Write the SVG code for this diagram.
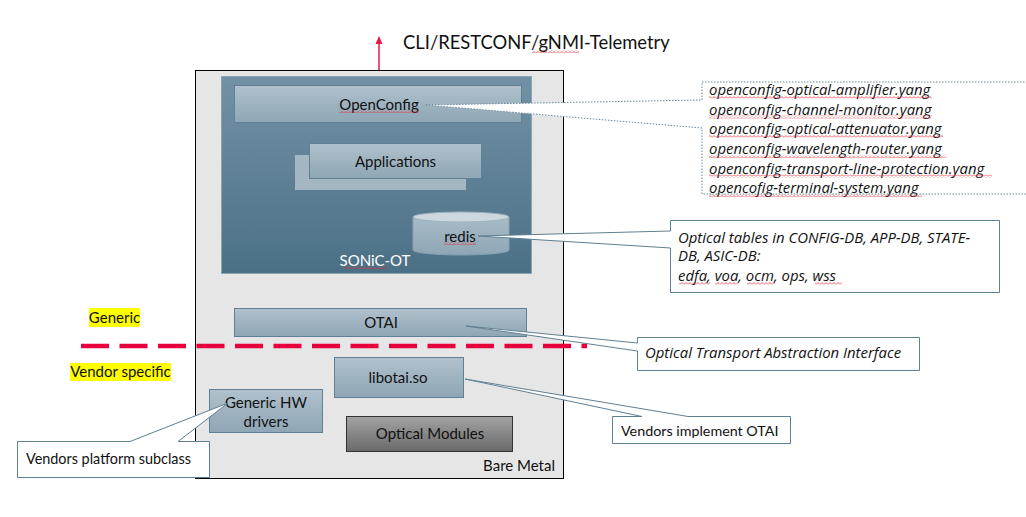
<svg xmlns="http://www.w3.org/2000/svg" width="1026" height="517" viewBox="0 0 1026 517">
<defs>
<linearGradient id="gBox" x1="0" y1="0" x2="0" y2="1"><stop offset="0" stop-color="#b0c1cc"/><stop offset="1" stop-color="#8ea6b5"/></linearGradient>
<linearGradient id="gSonic" x1="0" y1="0" x2="0" y2="1"><stop offset="0" stop-color="#7391a5"/><stop offset="1" stop-color="#4b7086"/></linearGradient>
<linearGradient id="gCyl" x1="0" y1="0" x2="0" y2="1"><stop offset="0" stop-color="#a9bbc7"/><stop offset="1" stop-color="#8ea6b5"/></linearGradient>
<linearGradient id="gMod" x1="0" y1="0" x2="0" y2="1"><stop offset="0" stop-color="#a3a3a3"/><stop offset="1" stop-color="#6a6a6a"/></linearGradient>
<pattern id="sq" width="4" height="3" patternUnits="userSpaceOnUse"><path d="M0,2.5 L2,0.5 L4,2.5" fill="none" stroke="#e0303a" stroke-width="0.8"/></pattern>
</defs>
<style>
text{font-family:Lato,"Open Sans",sans-serif;fill:#111}
.lbl{font-size:15px;text-anchor:middle;dominant-baseline:central}
.box{fill:url(#gBox);stroke:#5f8195;stroke-width:1}
.it{font-family:"Open Sans",Lato,sans-serif;font-style:italic;font-size:14.9px;dominant-baseline:central}
.co{fill:#fff;stroke:#5f7f92;stroke-width:1}
.side{font-size:15px;text-anchor:middle;dominant-baseline:central}
.sq{fill:url(#sq)}
</style>
<rect width="1026" height="517" fill="#fff"/>

<g id="api">
<line x1="379" y1="70" x2="379" y2="42" stroke="#e8194a" stroke-width="1.5"/>
<polygon points="379,36 375.5,44 382.5,44" fill="#e8194a"/>
<text x="403" y="42" font-size="18.4" dominant-baseline="central">CLI/RESTCONF/gNMI-Telemetry</text>
<rect x="532" y="50" width="47" height="3" class="sq"/>
</g>

<g id="bare-metal">
<rect x="195.5" y="70.5" width="368" height="408" fill="#e6e6e6" stroke="#000" stroke-width="1"/>
<text x="555" y="465" font-size="15" text-anchor="end" dominant-baseline="central">Bare Metal</text>
</g>

<g id="sonic-ot">
<rect x="221.5" y="76.5" width="310" height="197" fill="url(#gSonic)" stroke="#8ca3b1" stroke-width="1"/>
<text x="375" y="260" class="lbl" style="fill:#fff">SONiC-OT</text>
<rect x="344" y="266" width="43" height="3" class="sq"/>
</g>

<g id="openconfig">
<rect x="234.5" y="85.5" width="287" height="37" class="box"/>
<text x="379" y="104" class="lbl">OpenConfig</text>
<rect x="339" y="110" width="80" height="3" class="sq"/>
</g>

<g id="applications">
<rect x="295" y="155" width="171" height="35" fill="#a3b6c2"/>
<rect x="309.5" y="143.5" width="172" height="35" class="box"/>
<text x="395.5" y="161" class="lbl">Applications</text>
</g>

<g id="redis">
<path d="M413,217 L413,250 A48,5 0 0 0 509,250 L509,217 Z" fill="url(#gCyl)" stroke="#8aa2b1" stroke-width="1"/>
<ellipse cx="461" cy="217" rx="48" ry="5" fill="#ccd7de" stroke="#9fb3bf" stroke-width="1"/>
<text x="460" y="236" class="lbl">redis</text>
<rect x="444" y="242" width="32" height="3" class="sq"/>
</g>

<g id="otai">
<rect x="234.5" y="308.5" width="292" height="28" class="box"/>
<text x="381" y="322" class="lbl">OTAI</text>
</g>

<g id="libotai">
<rect x="334.5" y="357.5" width="129" height="40" class="box"/>
<text x="398" y="377" class="lbl">libotai.so</text>
</g>

<g id="hw-drivers">
<rect x="209.5" y="389.5" width="113" height="43" class="box"/>
<text x="266" y="402" class="lbl">Generic HW</text>
<text x="266" y="421" class="lbl">drivers</text>
</g>

<g id="optical-modules">
<rect x="346.5" y="416.5" width="166" height="35" fill="url(#gMod)" stroke="#333" stroke-width="1"/>
<text x="430" y="433" class="lbl">Optical Modules</text>
</g>

<g id="layers">
<rect x="89" y="308" width="51" height="19" fill="#ffff00"/>
<text x="114.5" y="317" class="side">Generic</text>
<rect x="70" y="363" width="101" height="18" fill="#ffff00"/>
<text x="120.5" y="371" class="side">Vendor specific</text>
<line x1="81" y1="346" x2="587" y2="346" stroke="#e8003c" stroke-width="4.5" stroke-dasharray="28 10.5"/>
</g>

<g id="connectors">
<path id="co-openconfig" d="M702,82 L1030,82 L1030,194 L702,194 L702,128 L425,105 L702,100 Z" fill="#fff" stroke="#6b8a9c" stroke-width="1" stroke-dasharray="1.5 1.5"/>
<path id="co-redis" d="M670.5,220.5 L999.5,220.5 L999.5,292.5 L670.5,292.5 L670.5,248 L478,236 L670.5,231 Z" class="co"/>
<path id="co-otai" d="M637.5,337.5 L919.5,337.5 L919.5,370.5 L637.5,370.5 L637.5,351 L466,326 L637.5,343 Z" class="co"/>
<path id="co-libotai" d="M612.5,416.5 L642,416.5 L465,379 L688,416.5 L790.5,416.5 L790.5,443.5 L612.5,443.5 Z" class="co"/>
<path id="co-hw" d="M17.5,441.5 L130,441.5 L228,403 L178,441.5 L209.5,441.5 L209.5,477.5 L17.5,477.5 Z" class="co"/>
</g>

<g id="yang-list">
<text x="709" y="89" class="it">openconfig-optical-amplifier.yang</text>
<text x="709" y="108.5" class="it">openconfig-channel-monitor.yang</text>
<text x="709" y="128" class="it">openconfig-optical-attenuator.yang</text>
<text x="709" y="148" class="it">openconfig-wavelength-router.yang</text>
<text x="709" y="167.5" class="it">openconfig-transport-line-protection.yang</text>
<text x="709" y="187" class="it">opencofig-terminal-system.yang</text>
<rect x="709" y="96" width="223" height="3" class="sq"/>
<rect x="709" y="115.5" width="223" height="3" class="sq"/>
<rect x="709" y="135" width="234" height="3" class="sq"/>
<rect x="709" y="155" width="237" height="3" class="sq"/>
<rect x="709" y="174.5" width="283" height="3" class="sq"/>
<rect x="709" y="194" width="213" height="3" class="sq"/>
</g>

<g id="redis-note">
<text x="678" y="237" class="it">Optical tables in CONFIG-DB, APP-DB, STATE-</text>
<text x="678" y="255" class="it">DB, ASIC-DB:</text>
<text x="678" y="275" class="it">edfa, voa, ocm, ops, wss</text>
<rect x="679" y="282" width="31" height="3" class="sq"/>
<rect x="715" y="282" width="23" height="3" class="sq"/>
<rect x="747" y="282" width="28" height="3" class="sq"/>
<rect x="815" y="282" width="27" height="3" class="sq"/>
</g>

<g id="otai-note">
<text x="645" y="352" class="it">Optical Transport Abstraction Interface</text>
</g>

<g id="libotai-note">
<text x="621" y="430" font-size="14.3" dominant-baseline="central">Vendors implement OTAI</text>
</g>

<g id="hw-note">
<text x="26" y="458" font-size="14.4" dominant-baseline="central">Vendors platform subclass</text>
</g>
</svg>
